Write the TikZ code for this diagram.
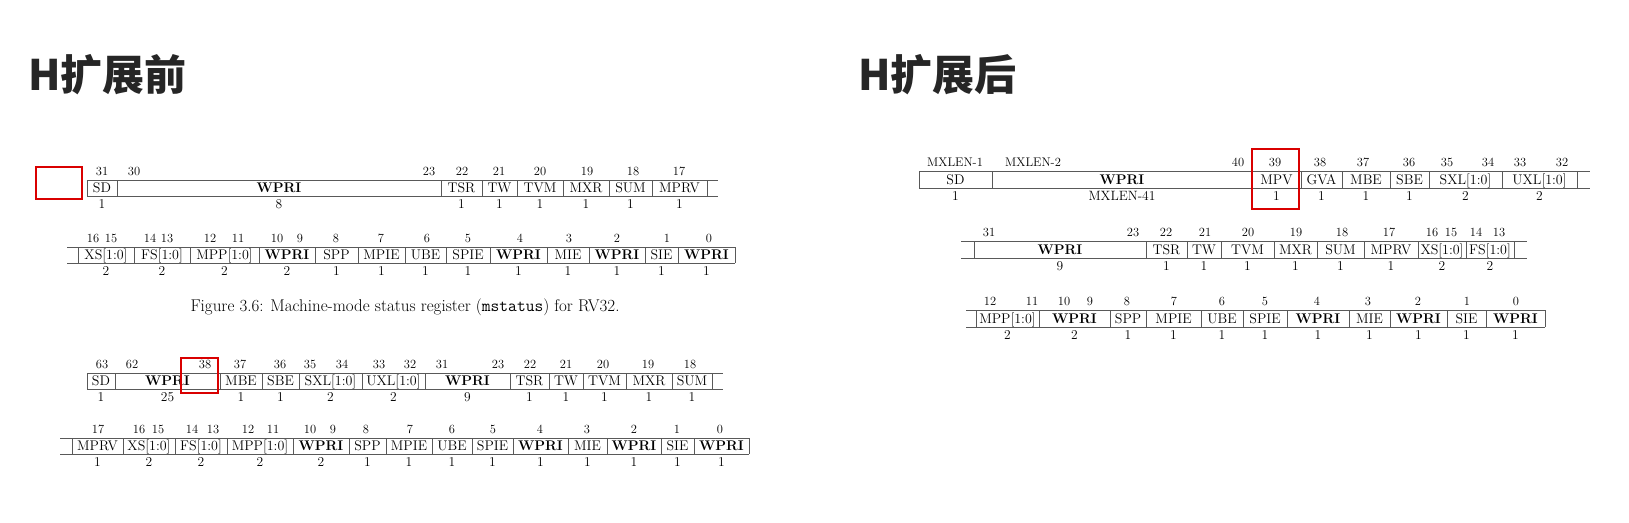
\documentclass[tikz,border=0pt]{standalone}
\usepackage{fontspec}
\newfontfamily\cjk{Noto Sans CJK SC}
\begin{document}
\begin{tikzpicture}[x=1pt,y=-1pt,
    regline/.style={black!65, line width=0.9pt},
    field/.style={anchor=base, inner sep=0pt, font=\fontsize{14}{14}\selectfont},
    bitnum/.style={anchor=base, inner sep=0pt, font=\fontsize{12.5}{12.5}\selectfont},
    bitwidth/.style={anchor=base, inner sep=0pt, font=\fontsize{13.5}{13.5}\selectfont},
    mark box/.style={draw=red!85!black, line width=1.8pt},
    title/.style={anchor=base west, inner sep=0pt, text=black!85, font=\cjk\bfseries\fontsize{42}{42}\selectfont}]
    \useasboundingbox[fill=white] (0,0) rectangle (1629,522);

    % Titles
    \node[title] (before) at (28,90) {H扩展前};
    \node[title] (after) at (858,90) {H扩展后};

    % Left: RV32, first line
    \draw[regline] (87,180) -- (718,180);
    \draw[regline] (87,196) -- (718,196);
    \foreach \a/\b/\name/\w [count=\i] in {87/117/SD/1, 117/441/\textbf{WPRI}/8,
        441/482/TSR/1, 482/517/TW/1, 517/563/TVM/1, 563/609/MXR/1,
        609/652/SUM/1, 652/707/MPRV/1} {
        \draw[regline] (\a,180) -- (\a,196);
        \draw[regline] (\b,180) -- (\b,196);
        \node[field] (a\i) at ({(\a+\b)/2},192) {\name};
        \node[bitwidth] (aw\i) at ({(\a+\b)/2},208) {\w};
    }
    \foreach \x/\t [count=\i] in {102/31, 134/30, 429/23, 462/22, 499/21,
        540/20, 587/19, 633/18, 679/17} {
        \node[bitnum] (ab\i) at (\x,175) {\t};
    }

    % Left: RV32, second line
    \draw[regline] (67,247) -- (735,247);
    \draw[regline] (67,263) -- (735,263);
    \foreach \a/\b/\name/\w [count=\i] in {78/134/XS[1:0]/2, 134/190/FS[1:0]/2,
        190/259/MPP[1:0]/2, 259/315/\textbf{WPRI}/2, 315/358/SPP/1,
        358/405/MPIE/1, 405/446/UBE/1, 446/490/SPIE/1, 490/547/\textbf{WPRI}/1,
        547/589/MIE/1, 589/645/\textbf{WPRI}/1, 645/678/SIE/1,
        678/735/\textbf{WPRI}/1} {
        \draw[regline] (\a,247) -- (\a,263);
        \draw[regline] (\b,247) -- (\b,263);
        \node[field] (b\i) at ({(\a+\b)/2},259) {\name};
        \node[bitwidth] (bw\i) at ({(\a+\b)/2},275) {\w};
    }
    \foreach \x/\t [count=\i] in {93/16, 111/15, 150/14, 167/13, 210/12,
        238/11, 277/10, 300/9, 336/8, 381/7, 427/6, 468/5, 520/4, 569/3,
        617/2, 667/1, 709/0} {
        \node[bitnum] (bb\i) at (\x,242) {\t};
    }

    % Caption
    \node[anchor=base, inner sep=0pt, font=\fontsize{17}{17}\selectfont] (caption)
        at (405,311) {Figure 3.6: Machine-mode status register (\texttt{mstatus}) for RV32.};

    % Left: RV64, first line
    \draw[regline] (87,373) -- (723,373);
    \draw[regline] (87,389) -- (723,389);
    \foreach \a/\b/\name/\w [count=\i] in {87/115/SD/1, 115/220/\textbf{WPRI}/25,
        220/262/MBE/1, 262/299/SBE/1, 299/362/SXL[1:0]/2, 362/425/UXL[1:0]/2,
        425/510/\textbf{WPRI}/9, 510/549/TSR/1, 549/583/TW/1, 583/626/TVM/1,
        626/672/MXR/1, 672/712/SUM/1} {
        \draw[regline] (\a,373) -- (\a,389);
        \draw[regline] (\b,373) -- (\b,389);
        \node[field] (c\i) at ({(\a+\b)/2},385) {\name};
        \node[bitwidth] (cw\i) at ({(\a+\b)/2},401) {\w};
    }
    \foreach \x/\t [count=\i] in {102/63, 132/62, 205/38, 240/37, 280/36,
        310/35, 342/34, 379/33, 410/32, 442/31, 498/23, 530/22, 566/21,
        603/20, 648/19, 690/18} {
        \node[bitnum] (cb\i) at (\x,368) {\t};
    }

    % Left: RV64, second line
    \draw[regline] (60,438) -- (749,438);
    \draw[regline] (60,454) -- (749,454);
    \foreach \a/\b/\name/\w [count=\i] in {72/123/MPRV/1, 123/175/XS[1:0]/2,
        175/227/FS[1:0]/2, 227/293/MPP[1:0]/2, 293/349/\textbf{WPRI}/2,
        349/386/SPP/1, 386/432/MPIE/1, 432/472/UBE/1, 472/513/SPIE/1,
        513/568/\textbf{WPRI}/1, 568/607/MIE/1, 607/661/\textbf{WPRI}/1,
        661/694/SIE/1, 694/749/\textbf{WPRI}/1} {
        \draw[regline] (\a,438) -- (\a,454);
        \draw[regline] (\b,438) -- (\b,454);
        \node[field] (d\i) at ({(\a+\b)/2},450) {\name};
        \node[bitwidth] (dw\i) at ({(\a+\b)/2},466) {\w};
    }
    \foreach \x/\t [count=\i] in {98/17, 139/16, 158/15, 192/14, 213/13,
        248/12, 273/11, 310/10, 333/9, 366/8, 410/7, 452/6, 493/5, 540/4,
        587/3, 634/2, 677/1, 720/0} {
        \node[bitnum] (db\i) at (\x,433) {\t};
    }

    % Right: with H extension, first line
    \draw[regline] (919,171) -- (1590,171);
    \draw[regline] (919,188) -- (1590,188);
    \foreach \a/\b/\name/\w [count=\i] in {919/992/SD/1,
        992/1252/\textbf{WPRI}/MXLEN-41, 1252/1301/MPV/1, 1301/1342/GVA/1,
        1342/1390/MBE/1, 1390/1429/SBE/1, 1429/1502/SXL[1:0]/2,
        1502/1577/UXL[1:0]/2} {
        \draw[regline] (\a,171) -- (\a,188);
        \draw[regline] (\b,171) -- (\b,188);
        \node[field] (e\i) at ({(\a+\b)/2},184) {\name};
        \node[bitwidth] (ew\i) at ({(\a+\b)/2},200) {\w};
    }
    \foreach \x/\t [count=\i] in {955/MXLEN-1, 1033/MXLEN-2, 1238/40,
        1275/39, 1320/38, 1363/37, 1409/36, 1447/35, 1488/34, 1520/33,
        1562/32} {
        \node[bitnum] (eb\i) at (\x,166) {\t};
    }

    % Right: second line
    \draw[regline] (961,241) -- (1527,241);
    \draw[regline] (961,258) -- (1527,258);
    \foreach \a/\b/\name/\w [count=\i] in {974/1146/\textbf{WPRI}/9,
        1146/1187/TSR/1, 1187/1221/TW/1, 1221/1274/TVM/1, 1274/1317/MXR/1,
        1317/1364/SUM/1, 1364/1418/MPRV/1, 1418/1466/XS[1:0]/2,
        1466/1514/FS[1:0]/2} {
        \draw[regline] (\a,241) -- (\a,258);
        \draw[regline] (\b,241) -- (\b,258);
        \node[field] (f\i) at ({(\a+\b)/2},254) {\name};
        \node[bitwidth] (fw\i) at ({(\a+\b)/2},270) {\w};
    }
    \foreach \x/\t [count=\i] in {989/31, 1133/23, 1166/22, 1205/21,
        1248/20, 1296/19, 1342/18, 1389/17, 1432/16, 1451/15, 1476/14,
        1499/13} {
        \node[bitnum] (fb\i) at (\x,236) {\t};
    }

    % Right: third line
    \draw[regline] (966,310) -- (1545,310);
    \draw[regline] (966,327) -- (1545,327);
    \foreach \a/\b/\name/\w [count=\i] in {976/1039/MPP[1:0]/2,
        1039/1110/\textbf{WPRI}/2, 1110/1146/SPP/1, 1146/1201/MPIE/1,
        1201/1243/UBE/1, 1243/1287/SPIE/1, 1287/1349/\textbf{WPRI}/1,
        1349/1390/MIE/1, 1390/1447/\textbf{WPRI}/1, 1447/1486/SIE/1,
        1486/1545/\textbf{WPRI}/1} {
        \draw[regline] (\a,310) -- (\a,327);
        \draw[regline] (\b,310) -- (\b,327);
        \node[field] (g\i) at ({(\a+\b)/2},323) {\name};
        \node[bitwidth] (gw\i) at ({(\a+\b)/2},339) {\w};
    }
    \foreach \x/\t [count=\i] in {990/12, 1032/11, 1064/10, 1090/9,
        1127/8, 1174/7, 1222/6, 1265/5, 1317/4, 1368/3, 1418/2, 1467/1,
        1516/0} {
        \node[bitnum] (gb\i) at (\x,305) {\t};
    }

    % Red marks
    \draw[mark box] (36,167) rectangle (82,199);
    \draw[mark box] (181,358) rectangle (218,393);
    \draw[mark box] (1252,149) rectangle (1299,209);
\end{tikzpicture}
\end{document}
